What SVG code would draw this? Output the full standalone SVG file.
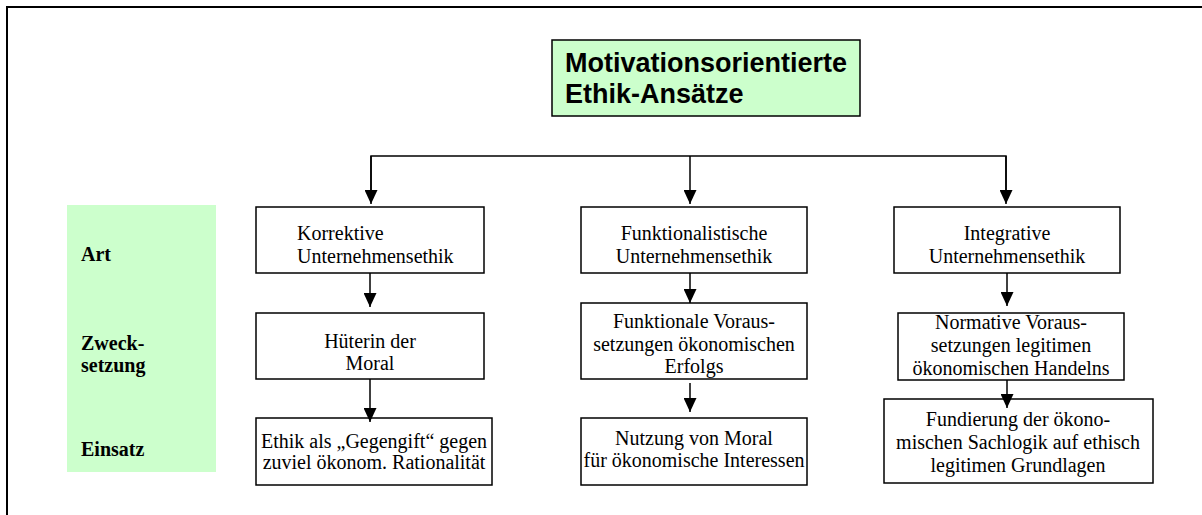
<svg xmlns="http://www.w3.org/2000/svg" width="1202" height="515" viewBox="0 0 1202 515">
<defs>
<marker id="ah" markerWidth="14" markerHeight="13" refX="14" refY="6.5" orient="auto" markerUnits="userSpaceOnUse" viewBox="0 0 14 13">
<path d="M0,0 L14,6.5 L0,13 Z" fill="#000"/>
</marker>
<style>
.box{fill:#fff;stroke:#000;stroke-width:1.5}
.green{fill:#ccffcc}
.title{fill:#ccffcc;stroke:#000;stroke-width:1.5}
.t{font-family:"Liberation Serif","Times New Roman",serif;font-size:20px;fill:#000}
.c{text-anchor:middle}
.lab{font-family:"Liberation Serif","Times New Roman",serif;font-size:20px;font-weight:bold;fill:#000}
.tt{font-family:"Liberation Sans",Arial,sans-serif;font-size:27px;font-weight:bold;fill:#000}
.ln{fill:none;stroke:#000;stroke-width:1.5}
</style>
</defs>
<rect width="1202" height="515" fill="#fff"/>
<g id="frame">
<path d="M7,515 L7,7 L1202,7" fill="none" stroke="#000" stroke-width="2"/>
</g>
<g id="row-labels">
<rect class="green" x="67" y="205" width="149" height="267"/>
<text class="lab" x="81" y="261">Art</text>
<text class="lab" x="81" y="350">Zweck-</text>
<text class="lab" x="81" y="372">setzung</text>
<text class="lab" x="81" y="456">Einsatz</text>
</g>
<g id="title">
<rect class="title" x="552" y="40" width="308" height="76"/>
<text class="tt" x="565" y="72">Motivationsorientierte</text>
<text class="tt" x="565" y="103">Ethik-Ansätze</text>
</g>
<g id="korrektive">
<rect class="box" x="256" y="207" width="228" height="66"/>
<text class="t" x="297" y="240">Korrektive</text>
<text class="t" x="297" y="263">Unternehmensethik</text>
</g>
<g id="funktionalistische">
<rect class="box" x="581" y="207" width="226" height="66"/>
<text class="t c" x="694" y="240">Funktionalistische</text>
<text class="t c" x="694" y="263">Unternehmensethik</text>
</g>
<g id="integrative">
<rect class="box" x="894" y="207" width="226" height="66"/>
<text class="t c" x="1007" y="240">Integrative</text>
<text class="t c" x="1007" y="263">Unternehmensethik</text>
</g>
<g id="hueterin">
<rect class="box" x="256" y="313" width="228" height="66"/>
<text class="t c" x="370" y="348">Hüterin der</text>
<text class="t c" x="370" y="370">Moral</text>
</g>
<g id="funktionale">
<rect class="box" x="581" y="303" width="226" height="76"/>
<text class="t c" x="694" y="328">Funktionale Voraus-</text>
<text class="t c" x="694" y="351">setzungen ökonomischen</text>
<text class="t c" x="694" y="373">Erfolgs</text>
</g>
<g id="normative">
<rect class="box" x="898" y="313" width="226" height="67"/>
<text class="t c" x="1011" y="329">Normative Voraus-</text>
<text class="t c" x="1011" y="352">setzungen legitimen</text>
<text class="t c" x="1011" y="375">ökonomischen Handelns</text>
</g>
<g id="ethik">
<rect class="box" x="256" y="418" width="236" height="67"/>
<text class="t c" x="374" y="448">Ethik als „Gegengift“ gegen</text>
<text class="t c" x="374" y="469">zuviel ökonom. Rationalität</text>
</g>
<g id="nutzung">
<rect class="box" x="581" y="418" width="226" height="67"/>
<text class="t c" x="694" y="445">Nutzung von Moral</text>
<text class="t c" x="694" y="467">für ökonomische Interessen</text>
</g>
<g id="fundierung">
<rect class="box" x="884" y="399" width="269" height="84"/>
<text class="t c" x="1018" y="426">Fundierung der ökono-</text>
<text class="t c" x="1018" y="449">mischen Sachlogik auf ethisch</text>
<text class="t c" x="1018" y="472">legitimen Grundlagen</text>
</g>
<g id="connectors">
<path class="ln" d="M371,190 L371,156 L1006,156 L1006,190"/>
<line class="ln" x1="371" y1="156" x2="371" y2="204" marker-end="url(#ah)"/>
<line class="ln" x1="690" y1="156" x2="690" y2="204" marker-end="url(#ah)"/>
<line class="ln" x1="1006" y1="156" x2="1006" y2="204" marker-end="url(#ah)"/>
<line class="ln" x1="370" y1="273" x2="370" y2="307" marker-end="url(#ah)"/>
<line class="ln" x1="370" y1="379" x2="370" y2="422" marker-end="url(#ah)"/>
<line class="ln" x1="690" y1="273" x2="690" y2="303" marker-end="url(#ah)"/>
<line class="ln" x1="690" y1="383" x2="690" y2="412" marker-end="url(#ah)"/>
<line class="ln" x1="1007" y1="273" x2="1007" y2="306" marker-end="url(#ah)"/>
<line class="ln" x1="1007" y1="380" x2="1007" y2="408" marker-end="url(#ah)"/>
</g>
</svg>
